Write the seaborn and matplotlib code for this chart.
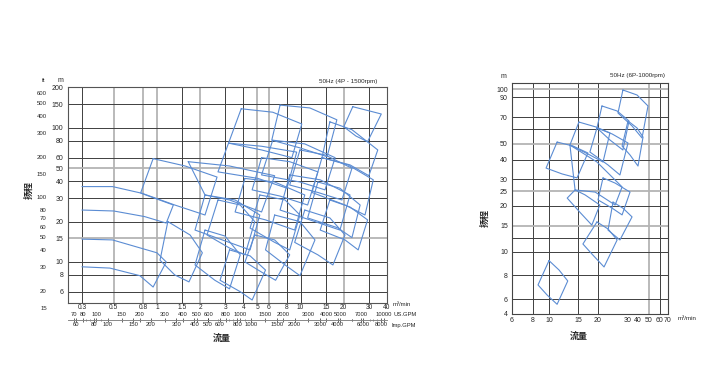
# Pump selection charts: 50Hz 4P (1500rpm) and 6P (1000rpm)
from matplotlib import pyplot as plt
from matplotlib.ticker import NullLocator, NullFormatter, LogLocator
import numpy as np
import pandas as pd
import seaborn as sns

# ---- 4P chart: axes values ----
q_ticks_4p = [0.3, 0.5, 0.8, 1, 1.5, 2, 3, 4, 5, 6, 8, 10, 15, 20, 30, 40]
q_labels_4p = ['0.3', '0.5', '0.8', '1', '1.5', '2', '3', '4', '5', '6', '8', '10', '15', '20', '30', '40']
h_ticks_4p = [6, 8, 10, 15, 20, 30, 40, 50, 60, 80, 100, 150, 200]
ft_ticks = [15, 20, 30, 40, 50, 60, 70, 80, 100, 150, 200, 300, 400, 500, 600]
usgpm_ticks = [70, 80, 100, 150, 200, 300, 400, 500, 600, 800, 1000, 1500, 2000, 3000, 4000, 5000, 7000, 10000]
impgpm_ticks = [60, 80, 100, 150, 200, 300, 400, 500, 600, 800, 1000, 1500, 2000, 3000, 4000, 6000, 8000]

q_dark_4p = [0.3, 1.5, 3, 4, 8, 10, 15, 30]
q_grey_4p = [0.5, 0.8, 1, 2, 5, 6, 20]
h_dark_4p = [6, 8, 10, 20, 30, 40, 60, 80, 100, 150]
h_grey_4p = [15, 50]

# ---- 4P chart: pump tiles (Q m3/min, H m), top curve then bottom curve ----
tiles_4p = [
    [(3.86, 139), (6.4, 131), (10.2, 107), (8.7, 60), (5.35, 68.5), (3.15, 77)],
    [(7.2, 148), (11.6, 141), (17.9, 115), (15.3, 61), (9.9, 71), (6.3, 81)],
    [(23.1, 144), (28.5, 136), (36.5, 127), (29.3, 79), (24.3, 87), (20.0, 102)],
    [(16.0, 111), (22.8, 97), (34.5, 68.5), (29.9, 44), (22.1, 53), (14.1, 60)],
    [(0.94, 59), (1.57, 52), (2.62, 43), (2.16, 22.4), (1.33, 26.6), (0.77, 32.8)],
    [(1.65, 56), (3.2, 52), (6.6, 44), (5.35, 23.6), (3.2, 29), (2.16, 31.6)],
    [(3.15, 77), (5.35, 73), (9.4, 66), (8.05, 35.5), (5.05, 42), (2.66, 47)],
    [(6.4, 81), (10.7, 76), (17.4, 60), (14.8, 34.5), (9.9, 39.5), (5.35, 44.6)],
    [(14.1, 60), (21.4, 53), (32.1, 41), (28.1, 22.4), (20.4, 26.6), (12.0, 33)],
    [(2.16, 31.6), (3.5, 29), (5.2, 22.4), (4.45, 12.3), (2.85, 14.6), (1.84, 17.3)],
    [(4.1, 42), (6.6, 39.5), (10.7, 31.6), (9.1, 17.3), (5.7, 20.6), (3.5, 23.6)],
    [(8.4, 44.6), (13.7, 41), (22.1, 31.6), (18.8, 17.3), (12.6, 20), (7.2, 24.4)],
    [(1.19, 20), (1.70, 15.9), (2.07, 11.7), (1.67, 7.1), (1.33, 8.0), (1.05, 10.3)],
    [(2.16, 17.3), (2.98, 15.6), (3.8, 11.3), (3.2, 6.3), (2.53, 7.3), (1.84, 9.5)],
    [(3.2, 12.3), (4.45, 11.1), (5.7, 8.7), (4.6, 5.2), (3.8, 6.0), (2.75, 7.3)],
    [(4.8, 15.9), (6.6, 14.6), (8.4, 11.3), (6.7, 7.3), (5.35, 8.4), (4.1, 10)],
    [(6.6, 22.4), (9.9, 20), (12.6, 14.6), (9.9, 7.9), (7.8, 9.5), (5.7, 12.3)],
    [(10.7, 24.4), (16.0, 21.3), (20.4, 15.9), (16.8, 9.5), (13.2, 11.3), (9.1, 14)],
    [(16.0, 29), (22.1, 25.7), (29.3, 20.6), (25.2, 12.3), (20.4, 14.6), (13.7, 17.3)],
    [(5.35, 60), (8.4, 56), (13.2, 47), (11.2, 26.6), (7.2, 31), (4.6, 34.5)],
    [(9.9, 68.5), (14.8, 62.9), (22.8, 50), (19.4, 29), (13.2, 33), (8.4, 37.5)],
    [(2.66, 29), (3.8, 26.6), (4.8, 20), (4.1, 11.3), (3.2, 12.7), (2.23, 15.9)],
    [(5.2, 31.6), (7.8, 29), (9.9, 22.4), (8.4, 12.3), (6.6, 14), (4.45, 17.9)],
    [(13.2, 39.5), (18.8, 35.5), (26.0, 26.6), (22.8, 15.2), (18.1, 18), (11.2, 21.3)],
]
# tiles that start on the 0.3 line (left side open)
open_tiles_4p = [
    [(0.3, 36.5), (0.49, 36.5), (0.76, 32.8), (1.3, 26.6), (1.16, 19.5), (0.82, 21.8), (0.5, 24), (0.3, 24.4)],
    [(0.3, 14.8), (0.49, 14.6), (1.0, 11.7), (1.16, 10), (0.94, 6.5), (0.76, 7.9), (0.47, 9.0), (0.3, 9.2)],
]

# ---- 6P chart ----
q_ticks_6p = [6, 8, 10, 15, 20, 30, 40, 50, 60, 70]
h_ticks_6p = [4, 6, 8, 10, 15, 20, 25, 30, 40, 50, 70, 90, 100]
q_dark_6p = [8, 10, 15, 20, 60]
q_grey_6p = [50]
h_dark_6p = [6, 8, 10, 12, 20, 30, 40, 60, 70, 90]
h_grey_6p = [15, 25, 50, 100]

tiles_6p = [
    [(28.0, 98.7), (38.9, 92.4), (49.0, 80.4), (43.4, 53.8), (33.7, 62.4), (26.2, 73.6)],
    [(21.1, 80.4), (25.9, 75.5), (30.9, 66.5), (28.0, 46.0), (23.5, 52.5), (19.7, 60.8)],
    [(30, 66.5), (38.9, 60.8), (44.3, 54.4), (40, 36.5), (31.8, 42.9), (27.7, 48.6)],
    [(15.2, 65.6), (19.4, 61.6), (23.5, 57.2), (21.4, 38.8), (17.8, 42.9), (13.4, 49.3)],
    [(19.7, 60.8), (24.2, 56.5), (30, 50.6), (26.9, 31.9), (22.9, 37.1), (17.8, 44.7)],
    [(11.2, 51.2), (14.0, 48.6), (17.3, 44.1), (14.8, 30.5), (12.0, 32.4), (9.6, 35.4)],
    [(13.4, 49.3), (19.7, 38.8), (27.7, 26.6), (25.2, 20.3), (19.2, 24.6), (14.4, 25.4)],
    [(10, 9.2), (11.5, 8.4), (13.0, 7.45), (11.2, 5.2), (9.73, 6.3), (8.58, 7.1)],
    [(19.7, 15.9), (22.9, 14.2), (25.9, 11.7), (21.7, 8.65), (18.6, 9.7), (16.1, 11.1)],
    [(24.5, 21.2), (28.0, 19.4), (33.7, 17.1), (26.9, 11.7), (24.8, 12.7), (22.9, 13.9)],
    [(14.4, 25.4), (16.6, 23.6), (20.5, 20.3), (18.3, 15.2), (15.4, 18.3), (12.9, 22.5)],
    [(21.4, 30.5), (25.2, 28.2), (31.8, 24.6), (27.7, 17.6), (24.2, 19.4), (20, 21.9)],
]

# the 6P chart axes are hand spaced: value -> pixel knots of its scales
q_knots_6p = [3, 6, 8, 10, 15, 20, 30, 40, 50, 60, 70, 140]
q_knot_px = [463, 512, 533, 549, 578, 598, 628, 638, 649, 660, 668, 700]
h_knots_6p = [2, 4, 6, 8, 10, 12, 15, 20, 25, 30, 40, 50, 60, 70, 90, 100, 108, 200]
h_knot_px = [345, 314, 299, 275, 252, 238, 226, 206, 191, 179, 160, 144, 129, 117, 97, 89, 83, 40]

LINE = '#5b8cd3'
DARK = '#3f3f3f'
GREY = '#b4b4b4'


def tile_frame(tiles, closed=True, start=0):
    rows = []
    for i, pts in enumerate(tiles):
        seq = list(pts) + ([pts[0]] if closed else [])
        for j, (q, h) in enumerate(seq):
            rows.append({'tile': start + i, 'step': j, 'Q': q, 'H': h})
    return pd.DataFrame(rows)


sns.set_style('white')
plt.rcParams['font.family'] = ['Liberation Sans', 'Noto Sans CJK SC']
plt.rcParams['axes.linewidth'] = 0.8

W, H = 711, 374
fig = plt.figure(figsize=(W / 100, H / 100), dpi=100)


def box(x0, y0, x1, y1):
    return fig.add_axes([x0 / W, 1 - y1 / H, (x1 - x0) / W, (y1 - y0) / H])


def label(x, y, s, **kw):
    kw.setdefault('ha', 'center')
    kw.setdefault('va', 'center')
    fig.text(x / W, 1 - y / H, s, **kw)


# ================= 4P - 1500rpm =================
ax = box(68, 87, 387, 303)
ax.set_xscale('log')
ax.set_yscale('log')
for q in q_dark_4p:
    ax.axvline(q, color=DARK, lw=0.7, zorder=1)
for q in q_grey_4p:
    ax.axvline(q, color=GREY, lw=1.3, zorder=1)
for h in h_dark_4p:
    ax.axhline(h, color=DARK, lw=0.7, zorder=1)
for h in h_grey_4p:
    ax.axhline(h, color=GREY, lw=1.3, zorder=1)

df_4p = pd.concat([tile_frame(tiles_4p),
                   tile_frame(open_tiles_4p, closed=False, start=100)])
sns.lineplot(data=df_4p, x='Q', y='H', units='tile', estimator=None, sort=False,
             color=LINE, lw=0.8, legend=False, ax=ax, zorder=3)

ax.set_xlim(0.24, 40)
ax.set_ylim(4.94, 202)
ax.set_xticks(q_ticks_4p, labels=q_labels_4p)
ax.set_yticks(h_ticks_4p, labels=[str(v) for v in h_ticks_4p])
ax.xaxis.set_minor_locator(NullLocator())
ax.yaxis.set_minor_locator(NullLocator())
ax.tick_params(axis='x', length=0, pad=1, labelsize=4.8)
ax.tick_params(axis='y', length=2.5, width=0.5, pad=1, labelsize=5)
ax.set_xlabel('')
ax.set_ylabel('')
for s in ax.spines.values():
    s.set_color('#555555')

# US / Imp gallon scales under the chart
sec_us = ax.secondary_xaxis(-0.077, functions=(lambda q: q * 264.17, lambda g: g / 264.17))
sec_us.set_alignment('top')
sec_us.set_ticks(usgpm_ticks, labels=[str(v) for v in usgpm_ticks])
sec_imp = ax.secondary_xaxis(-0.077, functions=(lambda q: q * 219.97, lambda g: g / 219.97))
sec_imp.set_ticks(impgpm_ticks, labels=[str(v) for v in impgpm_ticks])
for sec in (sec_us, sec_imp):
    sec.xaxis.set_minor_locator(LogLocator(base=10, subs=np.arange(2, 10)))
    sec.xaxis.set_minor_formatter(NullFormatter())
    sec.tick_params(which='major', direction='inout', length=3, width=0.5, pad=0.3, labelsize=4.2)
    sec.tick_params(which='minor', direction='inout', length=2, width=0.4)
    for s in sec.spines.values():
        s.set_color('#888888')
        s.set_linewidth(0.6)

# feet scale left of the metre scale
ax_ft = box(51, 87, 52, 312)
ax_ft.set_yscale('log')
ax_ft.set_ylim(13.9, 662.8)
ax_ft.set_yticks(ft_ticks, labels=[str(v) for v in ft_ticks])
ax_ft.yaxis.set_minor_locator(NullLocator())
ax_ft.set_xticks([])
for s in ax_ft.spines.values():
    s.set_visible(False)
ax_ft.patch.set_alpha(0)
ax_ft.tick_params(axis='y', length=2, width=0.5, pad=1, labelsize=4.3)

label(44, 81, 'ft', fontsize=4.5)
label(60, 81, 'm', fontsize=5)
label(348, 81, '50Hz (4P - 1500rpm)', fontsize=4.5)
label(393, 305, 'm³/min', fontsize=4.3, ha='left')
label(394, 314, 'US.GPM', fontsize=4.2, ha='left')
label(392, 326, 'Imp.GPM', fontsize=4.2, ha='left')
label(29, 190, '扬程', fontsize=6.5, rotation=90, fontweight='bold')
label(222, 338, '流量', fontsize=6.5, fontweight='bold')

# ================= 6P - 1000rpm =================
lq_k = np.log10(q_knots_6p)
lh_k = np.log10(h_knots_6p)
qpx = np.array(q_knot_px, dtype=float)
hpx = -np.array(h_knot_px, dtype=float)


def fwd_q(v):
    return np.interp(np.log10(np.clip(v, 1e-6, None)), lq_k, qpx)


def inv_q(u):
    return 10 ** np.interp(u, qpx, lq_k)


def fwd_h(v):
    return np.interp(np.log10(np.clip(v, 1e-6, None)), lh_k, hpx)


def inv_h(u):
    return 10 ** np.interp(u, hpx, lh_k)


ax_r = box(512, 83, 668, 314)
ax_r.set_xscale('function', functions=(fwd_q, inv_q))
ax_r.set_yscale('function', functions=(fwd_h, inv_h))
for q in q_dark_6p:
    ax_r.axvline(q, color=DARK, lw=0.7, zorder=1)
for q in q_grey_6p:
    ax_r.axvline(q, color=GREY, lw=1.3, zorder=1)
for h in h_dark_6p:
    ax_r.axhline(h, color=DARK, lw=0.7, zorder=1)
for h in h_grey_6p:
    ax_r.axhline(h, color=GREY, lw=1.3, zorder=1)

df_6p = tile_frame(tiles_6p)
sns.lineplot(data=df_6p, x='Q', y='H', units='tile', estimator=None, sort=False,
             color=LINE, lw=0.8, legend=False, ax=ax_r, zorder=3)

ax_r.set_xlim(6, 70)
ax_r.set_ylim(4, 108)
ax_r.set_xticks(q_ticks_6p, labels=[str(v) for v in q_ticks_6p])
ax_r.set_yticks(h_ticks_6p, labels=[str(v) for v in h_ticks_6p])
ax_r.xaxis.set_minor_locator(NullLocator())
ax_r.yaxis.set_minor_locator(NullLocator())
ax_r.tick_params(axis='x', length=0, pad=2, labelsize=5)
ax_r.tick_params(axis='y', length=2, width=0.5, pad=1, labelsize=5)
ax_r.set_xlabel('')
ax_r.set_ylabel('')
for s in ax_r.spines.values():
    s.set_color('#444444')

label(503, 76, 'm', fontsize=5)
label(637, 76, '50Hz (6P-1000rpm)', fontsize=4.5)
label(678, 318, 'm³/min', fontsize=4.5, ha='left')
label(485, 218, '扬程', fontsize=6.5, rotation=90, fontweight='bold')
label(579, 336, '流量', fontsize=6.5, fontweight='bold')

fig.savefig('out.png', dpi=100, facecolor='white')
